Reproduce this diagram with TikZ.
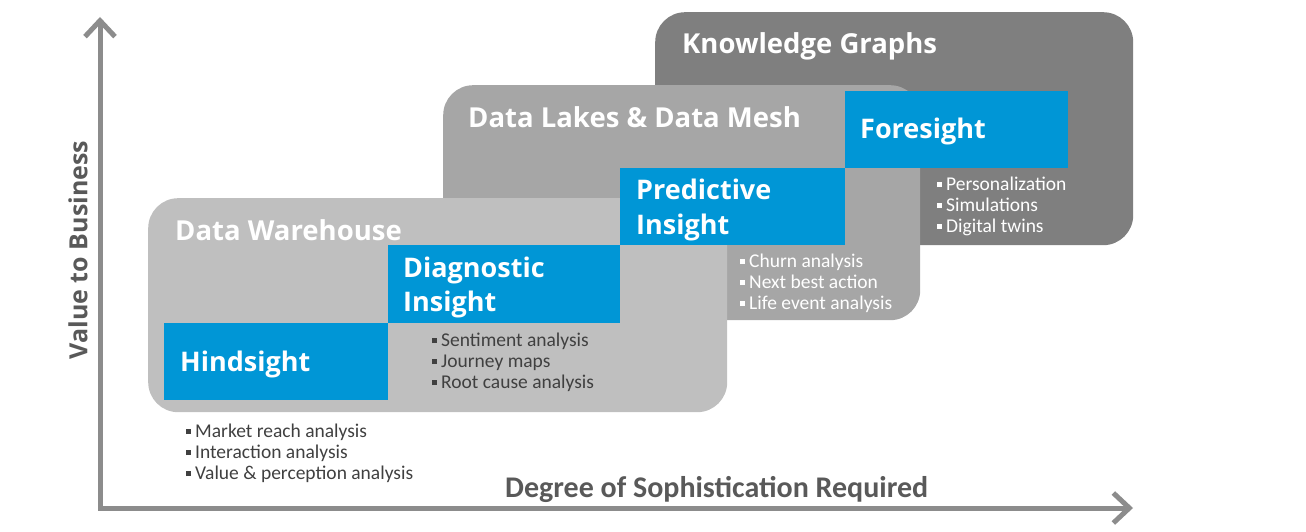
\documentclass[tikz,border=0pt]{standalone}
\usepackage{fontspec}
\setmainfont{Open Sans}
\newfontfamily\narrowfont{Carlito}
\usetikzlibrary{arrows.meta}
\definecolor{kgGray}{HTML}{7F7F7F}
\definecolor{dlGray}{HTML}{A6A6A6}
\definecolor{dwGray}{HTML}{BFBFBF}
\definecolor{insBlue}{HTML}{0096D6}
\definecolor{axGray}{HTML}{8C8C8C}
\definecolor{txtGray}{HTML}{595959}
\definecolor{bulGray}{HTML}{404040}
\newcommand{\bsq}{\rule[3pt]{5pt}{5pt}\hspace{4pt}}
\tikzset{
  panel/.style={rounded corners=30pt, inner sep=0pt, anchor=north west, draw=none},
  bluebox/.style={fill=insBlue, inner sep=0pt, anchor=north west, draw=none},
  title/.style={anchor=base west, inner sep=0pt, text=white, font=\fontsize{27.5}{32}\selectfont\bfseries},
  blabel/.style={anchor=base west, inner sep=0pt, text=white, font=\fontsize{27}{32}\selectfont\bfseries},
  bitem/.style={anchor=base west, inner sep=0pt, font=\narrowfont\fontsize{19.5}{23}\selectfont},
  axis/.style={line width=5pt, draw=axGray},
  axlabel/.style={inner sep=0pt, text=txtGray}
}
\begin{document}
\begin{tikzpicture}[x=1pt,y=-1pt]
\useasboundingbox (0,0) rectangle (1306,532);
% panels
\node[panel, fill=kgGray, minimum width=478pt, minimum height=233pt] (kg) at (655,12) {};
\node[panel, fill=dlGray, minimum width=477pt, minimum height=235pt] (dl) at (443,85) {};
\node[panel, fill=dwGray, minimum width=579pt, minimum height=214pt] (dw) at (148,198) {};
% titles
\node[title] (kgt) at (682,54) {Knowledge Graphs};
\node[title] (dlt) at (468,128) {Data Lakes \& Data Mesh};
\node[title] (dwt) at (175,240) {Data Warehouse};
% blue boxes
\node[bluebox, minimum width=224pt, minimum height=77pt] (hind) at (164,323) {};
\node[bluebox, minimum width=232pt, minimum height=78pt] (diag) at (388,245) {};
\node[bluebox, minimum width=225pt, minimum height=77pt] (pred) at (620,168) {};
\node[bluebox, minimum width=223pt, minimum height=77pt] (fore) at (845,91) {};
\node[blabel] (hindt) at (180,371) {Hindsight};
\node[blabel] (diagt1) at (403,277) {Diagnostic};
\node[blabel] (diagt2) at (403,311) {Insight};
\node[blabel] (predt1) at (636,199) {Predictive};
\node[blabel] (predt2) at (636,234) {Insight};
\node[blabel] (foret) at (860,139) {Foresight};
% bullets
\node[bitem, text=bulGray] (h1) at (186,437) {\bsq Market reach analysis};
\node[bitem, text=bulGray] (h2) at (186,458) {\bsq Interaction analysis};
\node[bitem, text=bulGray] (h3) at (186,479) {\bsq Value \& perception analysis};
\node[bitem, text=bulGray] (d1) at (432,346) {\bsq Sentiment analysis};
\node[bitem, text=bulGray] (d2) at (432,367) {\bsq Journey maps};
\node[bitem, text=bulGray] (d3) at (432,388) {\bsq Root cause analysis};
\node[bitem, text=white] (p1) at (740,267) {\bsq Churn analysis};
\node[bitem, text=white] (p2) at (740,288) {\bsq Next best action};
\node[bitem, text=white] (p3) at (740,309) {\bsq Life event analysis};
\node[bitem, text=white] (f1) at (937,190) {\bsq Personalization};
\node[bitem, text=white] (f2) at (937,211) {\bsq Simulations};
\node[bitem, text=white] (f3) at (937,232) {\bsq Digital twins};
% axes
\coordinate (ytip) at (100,17);
\coordinate (origin) at (100,508);
\coordinate (xtip) at (1133,508);
\draw[axis, line join=miter, {Straight Barb[length=16pt,width=30pt,line width=5pt]}-{Straight Barb[length=16pt,width=30pt,line width=5pt]}] (ytip) -- (origin) -- (xtip);
\node[axlabel, rotate=90, font=\fontsize{25}{30}\selectfont\bfseries] (vlab) at (78,250) {Value to Business};
\node[axlabel, anchor=base west, font=\narrowfont\fontsize{30}{34}\selectfont\bfseries] (hlab) at (505,497) {Degree of Sophistication Required};
\end{tikzpicture}
\end{document}
